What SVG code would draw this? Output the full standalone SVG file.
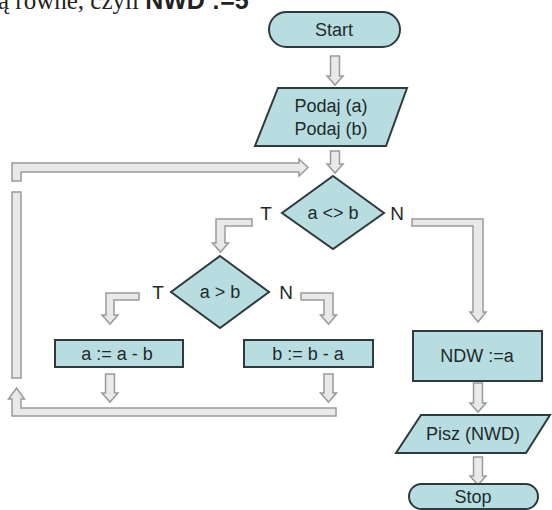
<svg xmlns="http://www.w3.org/2000/svg" width="552" height="510" viewBox="0 0 552 510">
<style>
.n{fill:#b8dde1;stroke:#2f3a3a;stroke-width:2}
.t{font-family:"Liberation Sans",Arial,sans-serif;font-size:18px;fill:#1e2a2a;text-anchor:middle}
.l{font-family:"Liberation Sans",Arial,sans-serif;font-size:19px;fill:#1e2a2a;text-anchor:middle}
.a{fill:#e9e9e9;stroke:#9a9a9a;stroke-width:1.5;stroke-linejoin:miter}
</style>
<rect width="552" height="510" fill="#ffffff"/>
<text x="-2" y="9" font-family="'Liberation Serif',serif" font-size="25" fill="#222">ą równe, czyli <tspan font-family="'Liberation Sans',sans-serif" font-weight="bold">NWD :=5</tspan></text>

<g id="connectors">
<path class="a" d="M330.5,56 H339.5 V76 H343 L335,85 L327,76 H330.5 Z"/>
<path class="a" d="M330.5,151 H339.5 V164 H343 L335,173 L327,164 H330.5 Z"/>
<path class="a" d="M12,181 V163 H299 V159 L308,167.5 L299,176 V172 H21 V181 Z"/>
<rect class="a" x="12" y="192" width="9" height="186"/>
<path class="a" d="M336,408 V416 H12 V399 H8.5 L16.5,388 L24.5,399 H21 V408 Z"/>
<path class="a" d="M252,219 H216 V243 H212.5 L220.5,252 L228.5,243 H225 V226 H252 Z"/>
<path class="a" d="M412,219 H483 V312 H486 L478,322 L470,312 H473 V226 H412 Z"/>
<path class="a" d="M139,293 H106 V315 H102 L110,324 L118,315 H114 V300 H139 Z"/>
<path class="a" d="M301,293 H333 V315 H336.5 L328.5,324 L320.5,315 H324 V300 H301 Z"/>
<path class="a" d="M105.5,374 H114.5 V393 H118 L110,402 L102,393 H105.5 Z"/>
<path class="a" d="M324,374 H333 V393 H336.5 L328.5,402 L320.5,393 H324 Z"/>
<path class="a" d="M473.5,383 H482.5 V403 H486 L478,412 L470,403 H473.5 Z"/>
<path class="a" d="M473.5,457 H482.5 V476 H486 L478,485 L470,476 H473.5 Z"/>
</g>

<g id="start">
<rect class="n" x="269" y="12" width="131" height="35" rx="17.5"/>
<text class="t" x="334" y="36">Start</text>
</g>
<g id="input">
<polygon class="n" points="278,88 407,88 386,146 255,146"/>
<text class="t" x="331" y="112">Podaj (a)</text>
<text class="t" x="331" y="135">Podaj (b)</text>
</g>
<g id="cond1">
<polygon class="n" points="333,176 384,213 333,249 282,213"/>
<text class="t" x="333" y="219">a &lt;&gt; b</text>
<text class="l" x="266" y="220">T</text>
<text class="l" x="397" y="220">N</text>
</g>
<g id="cond2">
<polygon class="n" points="220,256 269,292 220,328 171,292"/>
<text class="t" x="220" y="298">a &gt; b</text>
<text class="l" x="158" y="299">T</text>
<text class="l" x="286" y="299">N</text>
</g>
<g id="assignA">
<rect class="n" x="55" y="340" width="128" height="27"/>
<text class="t" x="117" y="360">a := a - b</text>
</g>
<g id="assignB">
<rect class="n" x="244" y="340" width="129" height="27"/>
<text class="t" x="308" y="360">b := b - a</text>
</g>
<g id="result">
<rect class="n" x="413" y="331" width="129" height="50"/>
<text class="t" x="477" y="362">NDW :=a</text>
</g>
<g id="output">
<polygon class="n" points="421,415 550,415 526,453 396,453"/>
<text class="t" x="473" y="440">Pisz (NWD)</text>
</g>
<g id="stop">
<rect class="n" x="409" y="484" width="129" height="25" rx="12.5"/>
<text class="t" x="473" y="503">Stop</text>
</g>
</svg>
